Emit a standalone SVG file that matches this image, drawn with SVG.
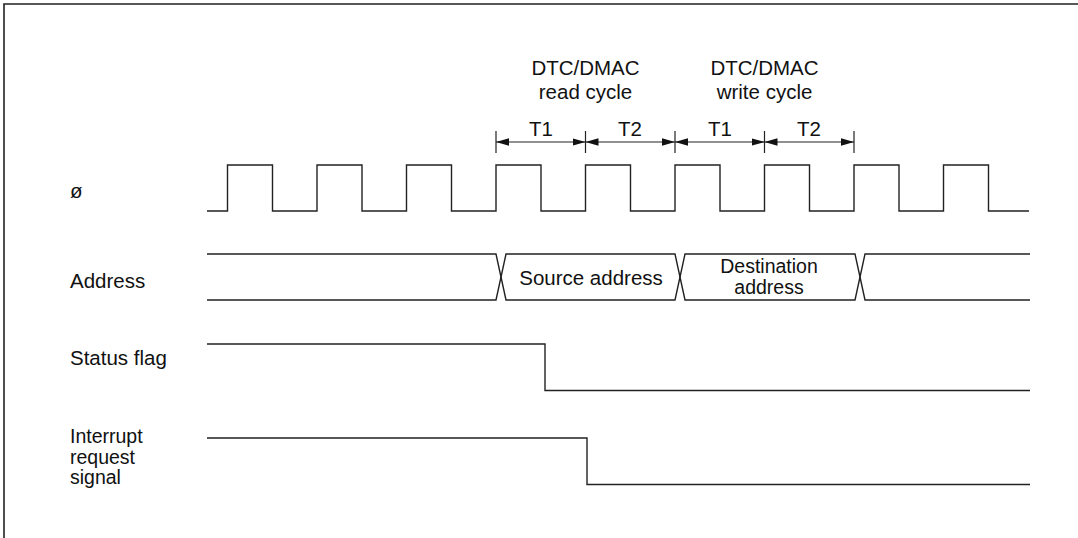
<svg xmlns="http://www.w3.org/2000/svg" width="1078" height="538" viewBox="0 0 1078 538">
<style>
.sig{fill:none;stroke:#222;stroke-width:1.4}
.frame{fill:none;stroke:#222;stroke-width:1.6}
.tick{stroke:#222;stroke-width:1.2}
.dim{stroke:#222;stroke-width:1.2;marker-start:url(#ah);marker-end:url(#ah)}
text{font-family:"Liberation Sans",Arial,sans-serif;font-size:20.5px;fill:#111}
.c{text-anchor:middle}
.m{font-size:19.5px}
</style>
<defs>
<marker id="ah" markerUnits="userSpaceOnUse" markerWidth="14" markerHeight="9" refX="13" refY="4.5" orient="auto-start-reverse" viewBox="0 0 14 9">
<path d="M0,0.8 L13,4.5 L0,8.2 Z" fill="#111"/>
</marker>
</defs>
<rect width="1078" height="538" fill="#fff"/>
<path class="frame" d="M4,538 V4 H1078"/>

<g id="phi">
<text x="70" y="198">ø</text>
<path class="sig" d="M207,211 H227.5 V165 H272.5 V211 H317 V165 H362 V211 H406.5 V165 H451.5 V211 H496 V165 H541 V211 H585.5 V165 H630.5 V211 H675 V165 H720 V211 H764.5 V165 H809.5 V211 H854 V165 H899 V211 H943.5 V165 H988.5 V211 H1029"/>
</g>

<g id="address">
<text x="70" y="288">Address</text>
<path class="sig" d="M207,254 H496 L506,300 H675 L685,254 H855 L865,300 H1030"/>
<path class="sig" d="M207,300 H496 L506,254 H675 L685,300 H855 L865,254 H1030"/>
<text class="c" x="591" y="285">Source address</text>
<text class="c m" x="769" y="272.5">Destination</text>
<text class="c m" x="769" y="293.5">address</text>
</g>

<g id="status">
<text x="70" y="365">Status flag</text>
<path class="sig" d="M207,344 H545 V390.5 H1030"/>
</g>

<g id="interrupt">
<text class="m" x="70" y="443">Interrupt</text>
<text class="m" x="70" y="463.5">request</text>
<text class="m" x="70" y="484">signal</text>
<path class="sig" d="M207,438 H587 V484.5 H1030"/>
</g>

<g id="read-cycle">
<text class="c" x="585.5" y="75">DTC/DMAC</text>
<text class="c" x="585.5" y="99">read cycle</text>
<text class="c" x="541" y="136">T1</text>
<text class="c" x="630" y="136">T2</text>
</g>

<g id="write-cycle">
<text class="c" x="764.5" y="75">DTC/DMAC</text>
<text class="c" x="764.5" y="99">write cycle</text>
<text class="c" x="720" y="136">T1</text>
<text class="c" x="809" y="136">T2</text>
</g>

<g id="connectors">
<line class="tick" x1="496" y1="131" x2="496" y2="153"/>
<line class="tick" x1="585.5" y1="131" x2="585.5" y2="153"/>
<line class="tick" x1="675" y1="131" x2="675" y2="153"/>
<line class="tick" x1="764.5" y1="131" x2="764.5" y2="153"/>
<line class="tick" x1="854" y1="131" x2="854" y2="153"/>
<line class="dim" x1="496" y1="142" x2="585.5" y2="142"/>
<line class="dim" x1="585.5" y1="142" x2="675" y2="142"/>
<line class="dim" x1="675" y1="142" x2="764.5" y2="142"/>
<line class="dim" x1="764.5" y1="142" x2="854" y2="142"/>
</g>
</svg>
